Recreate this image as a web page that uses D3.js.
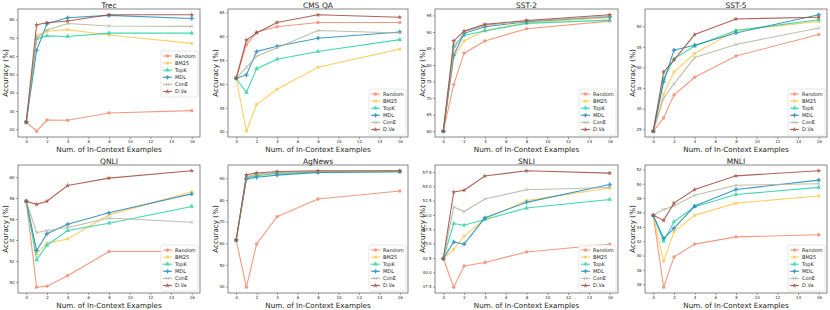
<!DOCTYPE html>
<html lang="en">
<head>
  <meta charset="UTF-8">
  <title>ICL accuracy vs examples</title>
  <script src="https://d3js.org/d3.v7.min.js"></script>
  <style>
    body { margin: 0; background: #fff; }
    text { font-family: "DejaVu Sans", sans-serif; }
  </style>
</head>
<body>
  <svg id="chart" width="830" height="310"></svg>
  <script>
    // shots on the x axis
    const shots = [0, 1, 2, 4, 8, 16];
    const xTicks = [0, 2, 4, 6, 8, 10, 12, 14, 16];
    const methods = ['Random', 'BM25', 'TopK', 'MDL', 'ConE', 'D.Va'];
    const colors = ['#f4896b', '#fdc94f', '#22d4a0', '#1f8ab8', '#b3b3a0', '#a24a3d'];

    // one row per method, same order as methods
    const trec = [
      [24, 19, 25.1, 25, 28.9, 30.2],
      [24, 71.3, 73.5, 74.4, 71.5, 66.9],
      [24, 69.5, 71, 70.7, 72.5, 72.5],
      [24, 63.1, 77.6, 80.9, 82.2, 80.5],
      [24, 69.8, 74.2, 77.8, 76.4, 76.2],
      [24, 77.1, 78.2, 79.1, 82.5, 82.5]
    ];
    const cmsqa = [
      [51.2, 58.2, 60.9, 62.0, 62.9, 62.9],
      [51.2, 40.1, 45.7, 48.9, 53.5, 57.3],
      [51.2, 48.2, 53.2, 55.2, 56.8, 59.3],
      [51.2, 51.9, 56.8, 57.9, 59.6, 60.9],
      [51.2, 53.5, 55.8, 57.6, 61.2, 60.7],
      [51.2, 59.2, 60.7, 62.9, 64.5, 64.0]
    ];
    const sst2 = [
      [60, 74.1, 83.6, 87.3, 91.0, 93.3],
      [60, 82.3, 87.3, 90.5, 92.8, 94.3],
      [60, 85.8, 89.0, 90.3, 92.6, 93.6],
      [60, 83.0, 89.6, 91.6, 93.1, 94.6],
      [60, 84.8, 90.0, 92.0, 93.3, 94.8],
      [60, 87.3, 90.3, 92.3, 93.5, 95.2]
    ];
    const sst5 = [
      [24.5, 27.7, 33.3, 37.6, 42.8, 48.0],
      [24.5, 33.6, 38.9, 43.4, 49.0, 51.2],
      [24.5, 37.2, 42.1, 45.2, 49.0, 51.6],
      [24.5, 36.5, 44.2, 45.4, 48.4, 52.8],
      [24.5, 32.5, 36.0, 42.4, 45.6, 49.6],
      [24.5, 38.9, 41.8, 48.0, 51.8, 52.2]
    ];
    const qnli = [
      [57.7, 49.5, 49.6, 50.6, 52.9, 52.9],
      [57.7, 52.7, 53.7, 54.1, 56.4, 58.6],
      [57.7, 52.1, 53.5, 54.9, 55.6, 57.2],
      [57.7, 53.0, 54.6, 55.5, 56.6, 58.4],
      [57.7, 54.7, 54.9, 55.2, 56.1, 55.7],
      [57.7, 57.4, 57.7, 59.2, 59.9, 60.6]
    ];
    const agnews = [
      [61.5, 39.7, 59.7, 72.3, 80.5, 84.2],
      [61.5, 90.2, 91.5, 92.5, 93.1, 93.4],
      [61.5, 90.5, 91.2, 92.3, 92.8, 93.1],
      [61.5, 89.7, 90.5, 91.5, 92.8, 93.1],
      [61.5, 90.9, 92.0, 92.8, 93.2, 93.4],
      [61.5, 91.7, 92.5, 93.2, 93.5, 93.5]
    ];
    const snli = [
      [42.4, 37.4, 41.1, 41.7, 43.55, 44.9],
      [42.4, 44.0, 46.3, 49.3, 52.5, 54.7],
      [42.4, 48.5, 48.2, 49.2, 51.2, 52.7],
      [42.4, 45.3, 44.9, 49.5, 52.2, 55.3],
      [42.4, 51.4, 50.6, 52.8, 54.4, 54.8],
      [42.4, 54.0, 54.3, 56.8, 57.7, 57.3]
    ];
    const mnli = [
      [45.6, 35.6, 39.8, 41.6, 42.6, 42.9],
      [45.6, 39.2, 43.3, 45.6, 47.3, 48.3],
      [45.6, 42.0, 44.7, 46.8, 48.5, 49.5],
      [45.6, 42.4, 43.8, 46.9, 49.2, 50.5],
      [45.6, 46.4, 46.9, 48.4, 49.8, 50.0],
      [45.6, 44.9, 47.3, 49.2, 51.1, 51.8]
    ];

    // y tick labels
    const trecTicks = [20, 30, 40, 50, 60, 70, 80];
    const cmsqaTicks = [40, 45, 50, 55, 60, 65];
    const sst2Ticks = [60, 65, 70, 75, 80, 85, 90, 95];
    const sst5Ticks = [25, 30, 35, 40, 45, 50];
    const qnliTicks = [50, 52, 54, 56, 58, 60];
    const agnewsTicks = [40, 50, 60, 70, 80, 90];
    const snliTicks = [37.5, 40, 42.5, 45, 47.5, 50, 52.5, 55, 57.5];
    const mnliTicks = [36, 38, 40, 42, 44, 46, 48, 50, 52];

    const panels = [
      { title: 'Trec', vals: trec, ticks: trecTicks, fmt: 'd', legendY: 42 },
      { title: 'CMS QA', vals: cmsqa, ticks: cmsqaTicks, fmt: 'd' },
      { title: 'SST-2', vals: sst2, ticks: sst2Ticks, fmt: 'd' },
      { title: 'SST-5', vals: sst5, ticks: sst5Ticks, fmt: 'd' },
      { title: 'QNLI', vals: qnli, ticks: qnliTicks, fmt: 'd' },
      { title: 'AgNews', vals: agnews, ticks: agnewsTicks, fmt: 'd' },
      { title: 'SNLI', vals: snli, ticks: snliTicks, fmt: '.1f' },
      { title: 'MNLI', vals: mnli, ticks: mnliTicks, fmt: 'd' }
    ];

    const svg = d3.select('svg#chart');
    const colLeft = [18, 228, 435, 645];
    const colW = [182, 180, 183, 182];
    const rowTop = [9, 165];
    const plotH = 128;

    const symbols = [
      { type: d3.symbolCircle, size: 9, fill: true },
      { type: d3.symbolSquare, size: 8, fill: true },
      { type: d3.symbolTriangle, size: 9, fill: true },
      { type: d3.symbolCross, size: 10, fill: true },
      { type: d3.symbolTimes, size: 9, fill: false },
      { type: d3.symbolStar, size: 8, fill: true }
    ];

    function drawMarker(g, m, px, py) {
      const s = symbols[m];
      g.append('path')
        .attr('d', d3.symbol().type(s.type).size(s.size)())
        .attr('transform', `translate(${px},${py})`)
        .attr('fill', s.fill ? colors[m] : 'none')
        .attr('stroke', s.fill ? 'none' : colors[m])
        .attr('stroke-width', 0.8);
    }

    panels.forEach((p, i) => {
      const r = Math.floor(i / 4), c = i % 4;
      const w = colW[c];
      const g = svg.append('g').attr('transform', `translate(${colLeft[c]},${rowTop[r]})`);

      const x = d3.scaleLinear().domain([-0.8, 16.8]).range([0, w]);
      const ext = d3.extent(p.vals.flat());
      const pad = (ext[1] - ext[0]) * 0.05;
      const y = d3.scaleLinear().domain([ext[0] - pad, ext[1] + pad]).range([plotH, 0]);

      // axes
      const xa = g.append('g').attr('transform', `translate(0,${plotH})`)
        .call(d3.axisBottom(x).tickValues(xTicks).tickSize(2).tickPadding(1.5).tickFormat(d3.format('d')));
      const ya = g.append('g')
        .call(d3.axisLeft(y).tickValues(p.ticks).tickSize(2).tickPadding(1.5).tickFormat(d3.format(p.fmt)));
      [xa, ya].forEach(a => {
        a.select('.domain').remove();
        a.selectAll('line').attr('stroke', '#444').attr('stroke-width', 0.5);
        a.selectAll('text').attr('font-size', 4).attr('fill', '#222');
      });

      g.append('rect')
        .attr('width', w).attr('height', plotH)
        .attr('fill', 'none').attr('stroke', '#555').attr('stroke-width', 0.7);

      // series
      const line = d3.line().x((d, j) => x(shots[j])).y(d => y(d));
      p.vals.forEach((vals, m) => {
        const sg = g.append('g').attr('opacity', 0.85);
        sg.append('path').datum(vals)
          .attr('d', line)
          .attr('fill', 'none')
          .attr('stroke', colors[m])
          .attr('stroke-width', 1.1);
        vals.forEach((v, j) => drawMarker(sg, m, x(shots[j]), y(v)));
      });

      // labels
      g.append('text').attr('x', w / 2).attr('y', -1.5)
        .attr('text-anchor', 'middle').attr('font-size', 7.5).attr('fill', '#222')
        .text(p.title);
      g.append('text').attr('x', w / 2).attr('y', plotH + 15)
        .attr('text-anchor', 'middle').attr('font-size', 7.2).attr('fill', '#222')
        .text('Num. of In-Context Examples');
      g.append('text')
        .attr('transform', `translate(-10.5,${plotH / 2}) rotate(-90)`)
        .attr('text-anchor', 'middle').attr('font-size', 7.2).attr('fill', '#222')
        .text('Accuracy (%)');

      // legend
      const lw = 37, lh = 46;
      const ly = p.legendY !== undefined ? p.legendY : plotH - lh - 2;
      const lg = g.append('g').attr('transform', `translate(${w - lw - 2},${ly})`);
      lg.append('rect').attr('width', lw).attr('height', lh).attr('rx', 1.5)
        .attr('fill', '#fff').attr('fill-opacity', 0.8)
        .attr('stroke', '#ccc').attr('stroke-width', 0.5);
      methods.forEach((name, m) => {
        const yy = 5 + m * 7.1;
        const eg = lg.append('g').attr('opacity', 0.85);
        eg.append('line').attr('x1', 2).attr('x2', 11).attr('y1', yy).attr('y2', yy)
          .attr('stroke', colors[m]).attr('stroke-width', 1.1);
        drawMarker(eg, m, 6.5, yy);
        lg.append('text').attr('x', 14).attr('y', yy + 1.7)
          .attr('font-size', 5).attr('fill', '#222').text(name);
      });
    });
  </script>
</body>
</html>
